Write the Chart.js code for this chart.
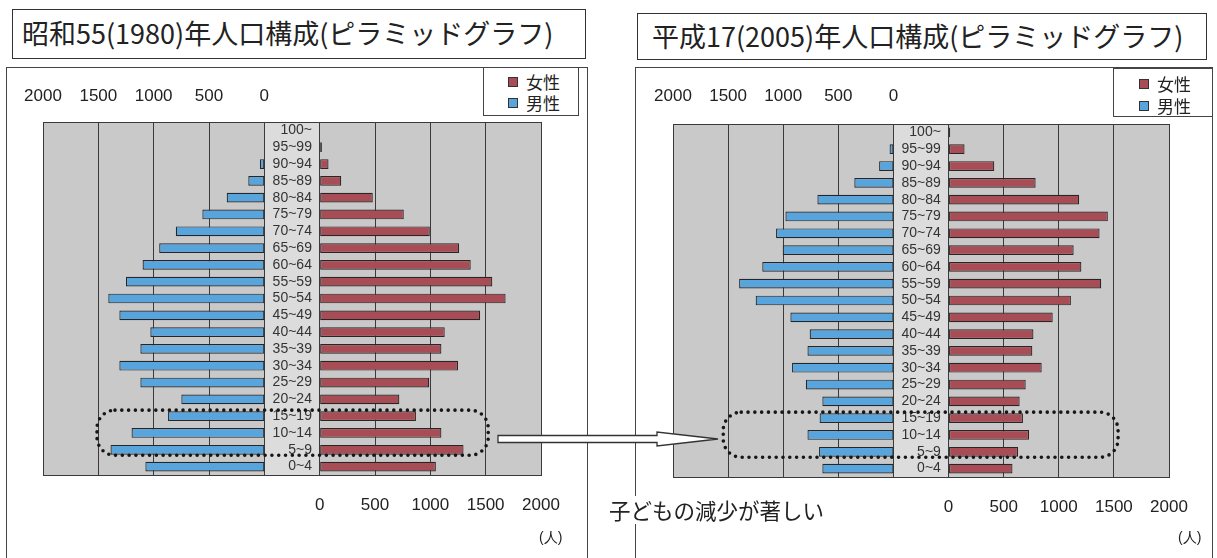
<!DOCTYPE html>
<html lang="ja">
<head>
<meta charset="utf-8">
<script src="https://cdn.jsdelivr.net/npm/chart.js@4.4.1/dist/chart.umd.min.js"></script>
<style>
  html, body { margin: 0; padding: 0; background: #fff; }
  body { width: 1217px; height: 558px; position: relative; overflow: hidden; font-family: 'Noto Sans CJK JP', sans-serif; color: #222; }
  .frame { position: absolute; border: 1.5px solid #444; box-sizing: border-box; }
  .title { position: absolute; border: 1.5px solid #333; box-sizing: border-box; font-size: 27px; white-space: nowrap; }
  canvas { position: absolute; }
  .legend { position: absolute; border: 1px solid #444; background: #fff; box-sizing: border-box; font-size: 17px; z-index: 3; }
  .legend .item { position: absolute; display: flex; align-items: center; white-space: nowrap; line-height: 20px; }
  .legend .sw { display: inline-block; width: 8px; height: 8px; border: 1px solid #333; margin-right: 8px; }
  .unit { position: absolute; font-family: 'Liberation Sans', Arial, sans-serif; font-size: 14px; }
  .note { position: absolute; font-size: 21.5px; background: #fff; padding: 0 2px; z-index: 3; line-height: 28px; }
  svg { position: absolute; left: 0; top: 0; z-index: 4; pointer-events: none; }
</style>
</head>
<body>
<div class="frame" style="left:6px;top:67px;width:582px;height:520px"></div>
<div class="frame" style="left:635px;top:67px;width:578px;height:520px"></div>

<div class="title" style="left:12px;top:9px;width:574px;height:50px;line-height:46px;padding-left:9px">昭和55(1980)年人口構成(ピラミッドグラフ)</div>
<div class="title" style="left:637px;top:13px;width:570px;height:47px;line-height:44px;padding-left:14px">平成17(2005)年人口構成(ピラミッドグラフ)</div>

<canvas id="chart1980" width="578" height="490" style="left:8px;top:68px"></canvas>
<canvas id="chart2005" width="574" height="490" style="left:637px;top:68px"></canvas>

<div class="legend" id="legend1980" style="left:483px;top:67px;width:96px;height:49px"></div>
<div class="legend" id="legend2005" style="left:1113px;top:68px;width:100px;height:49px"></div>

<div class="unit" style="left:539px;top:529px">(人)</div>
<div class="unit" style="left:1178px;top:529px">(人)</div>
<div class="note" style="left:607px;top:496px">子どもの減少が著しい</div>

<svg width="1217" height="558">
  <path d="M498,435.5 L657,435.5 L657,432 L718,439 L657,446 L657,442.5 L498,442.5 Z" fill="#fff" stroke="#333" stroke-width="1.3"/>
</svg>

<script>
// age groups, top of the pyramid first
const ageLabels = ['100~', '95~99', '90~94', '85~89', '80~84', '75~79', '70~74', '65~69', '60~64', '55~59',
  '50~54', '45~49', '40~44', '35~39', '30~34', '25~29', '20~24', '15~19', '10~14', '5~9', '0~4'];

// 昭和55(1980)
const male1980 = [0, 0, 40, 145, 340, 560, 800, 950, 1100, 1250, 1410, 1310, 1030, 1120, 1310, 1120, 750, 870, 1200, 1390, 1075];
const female1980 = [0, 20, 80, 195, 480, 760, 995, 1260, 1365, 1560, 1680, 1450, 1130, 1100, 1250, 990, 720, 870, 1100, 1300, 1050];

// 平成17(2005)
const male2005 = [0, 35, 130, 355, 690, 980, 1065, 1005, 1190, 1400, 1250, 935, 760, 780, 920, 795, 645, 670, 780, 675, 645];
const female2005 = [15, 145, 415, 790, 1185, 1445, 1370, 1135, 1205, 1385, 1110, 945, 770, 760, 845, 700, 645, 675, 730, 630, 580];

const axisMax = 2000;
const gap = 500; // width of the label column, in axis units
const femaleColor = '#a84c56';
const maleColor = '#58a4dc';
const tickFont = { family: "'Liberation Sans', Arial, sans-serif", size: 17 };

const pyramidDecor = {
  id: 'pyramidDecor',
  beforeDraw(chart) {
    const { ctx, chartArea: a, scales: { x } } = chart;
    ctx.save();
    ctx.fillStyle = '#c9c9c9';
    ctx.fillRect(a.left, a.top, a.right - a.left, a.bottom - a.top);
    ctx.fillStyle = '#dcdcdc';
    const c0 = x.getPixelForValue(-gap), c1 = x.getPixelForValue(0);
    ctx.fillRect(c0, a.top, c1 - c0, a.bottom - a.top);
    ctx.restore();
  },
  afterDatasetsDraw(chart, args, opts) {
    const hl = opts.highlight;
    if (!hl) return;
    const { ctx, scales: { x, y } } = chart;
    const top = y.getPixelForValue(ageLabels.indexOf(hl.from)) - 6;
    const bottom = y.getPixelForValue(ageLabels.indexOf(hl.to)) + 5.5;
    const left = x.getPixelForValue(hl.xMin), right = x.getPixelForValue(hl.xMax);
    const r = 18;
    ctx.save();
    ctx.beginPath();
    ctx.moveTo(left + r, top);
    ctx.arcTo(right, top, right, bottom, r);
    ctx.arcTo(right, bottom, left, bottom, r);
    ctx.arcTo(left, bottom, left, top, r);
    ctx.arcTo(left, top, right, top, r);
    ctx.closePath();
    ctx.setLineDash([0, 6.8]);
    ctx.lineCap = 'round';
    ctx.lineWidth = 3.6;
    ctx.strokeStyle = '#161616';
    ctx.stroke();
    ctx.restore();
  }
};

function makePyramid(canvasId, male, female, cfg) {
  const ctx = document.getElementById(canvasId).getContext('2d');
  const barStyle = { borderColor: '#262626', borderWidth: 1.2, borderSkipped: false, grouped: false,
    barPercentage: 0.58, categoryPercentage: 1 };
  return new Chart(ctx, {
    type: 'bar',
    data: {
      labels: ageLabels,
      datasets: [
        { label: '女性', data: female.map(v => [0, v]), backgroundColor: femaleColor, ...barStyle },
        { label: '男性', data: male.map(v => [-gap - v, -gap]), backgroundColor: maleColor, ...barStyle }
      ]
    },
    options: {
      indexAxis: 'y', responsive: false, animation: false,
      layout: { padding: { left: cfg.left, right: cfg.right, top: 0, bottom: 0 } },
      plugins: {
        legend: { display: false },
        tooltip: { enabled: false },
        pyramidDecor: { highlight: cfg.highlight }
      },
      scales: {
        x: {
          type: 'linear', position: 'bottom', min: -gap - axisMax, max: axisMax,
          ticks: { stepSize: 500, padding: cfg.bottomPad, font: tickFont, color: '#222', autoSkip: false, maxRotation: 0,
            callback: v => (v >= 0 ? v : '') },
          grid: { color: '#3a3a3a', lineWidth: 1, drawTicks: false },
          border: { display: true, color: '#3a3a3a' },
          afterFit: s => { s.height = cfg.bottomH; }
        },
        xTop: {
          type: 'linear', position: 'top', min: -gap - axisMax, max: axisMax,
          ticks: { stepSize: 500, padding: cfg.topPad, font: tickFont, color: '#222', autoSkip: false, maxRotation: 0,
            callback: v => (v <= -gap ? -(v + gap) : '') },
          grid: { display: false, drawTicks: false },
          border: { display: true, color: '#3a3a3a' },
          afterFit: s => { s.height = cfg.topH; }
        },
        y: {
          type: 'category', position: { x: -70 },
          grid: { display: false, drawTicks: false },
          border: { display: false },
          ticks: { autoSkip: false, padding: 0, color: '#333', font: { family: "'Liberation Sans', Arial, sans-serif", size: 14 } }
        }
      }
    },
    plugins: [pyramidDecor]
  });
}

function buildLegend(chart, boxId, swLeft, rows) {
  const box = document.getElementById(boxId);
  chart.data.datasets.forEach((ds, i) => {
    const item = document.createElement('div');
    item.className = 'item';
    item.style.left = swLeft + 'px';
    item.style.top = rows[i] + 'px';
    item.innerHTML = '<span class="sw" style="background:' + ds.backgroundColor + '"></span>' + ds.label;
    box.appendChild(item);
  });
}

const chart1980 = makePyramid('chart1980', male1980, female1980, {
  left: 35, right: 45, topH: 54, bottomH: 83, topPad: 15, bottomPad: 20,
  highlight: { from: '15~19', to: '5~9', xMin: -2012, xMax: 1523 }
});
const chart2005 = makePyramid('chart2005', male2005, female2005, {
  left: 36, right: 42, topH: 56, bottomH: 81, topPad: 17, bottomPad: 20,
  highlight: { from: '15~19', to: '5~9', xMin: -2044, xMax: 1538 }
});

buildLegend(chart1980, 'legend1980', 24, [4, 25]);
buildLegend(chart2005, 'legend2005', 25, [5, 27]);
</script>
</body>
</html>
